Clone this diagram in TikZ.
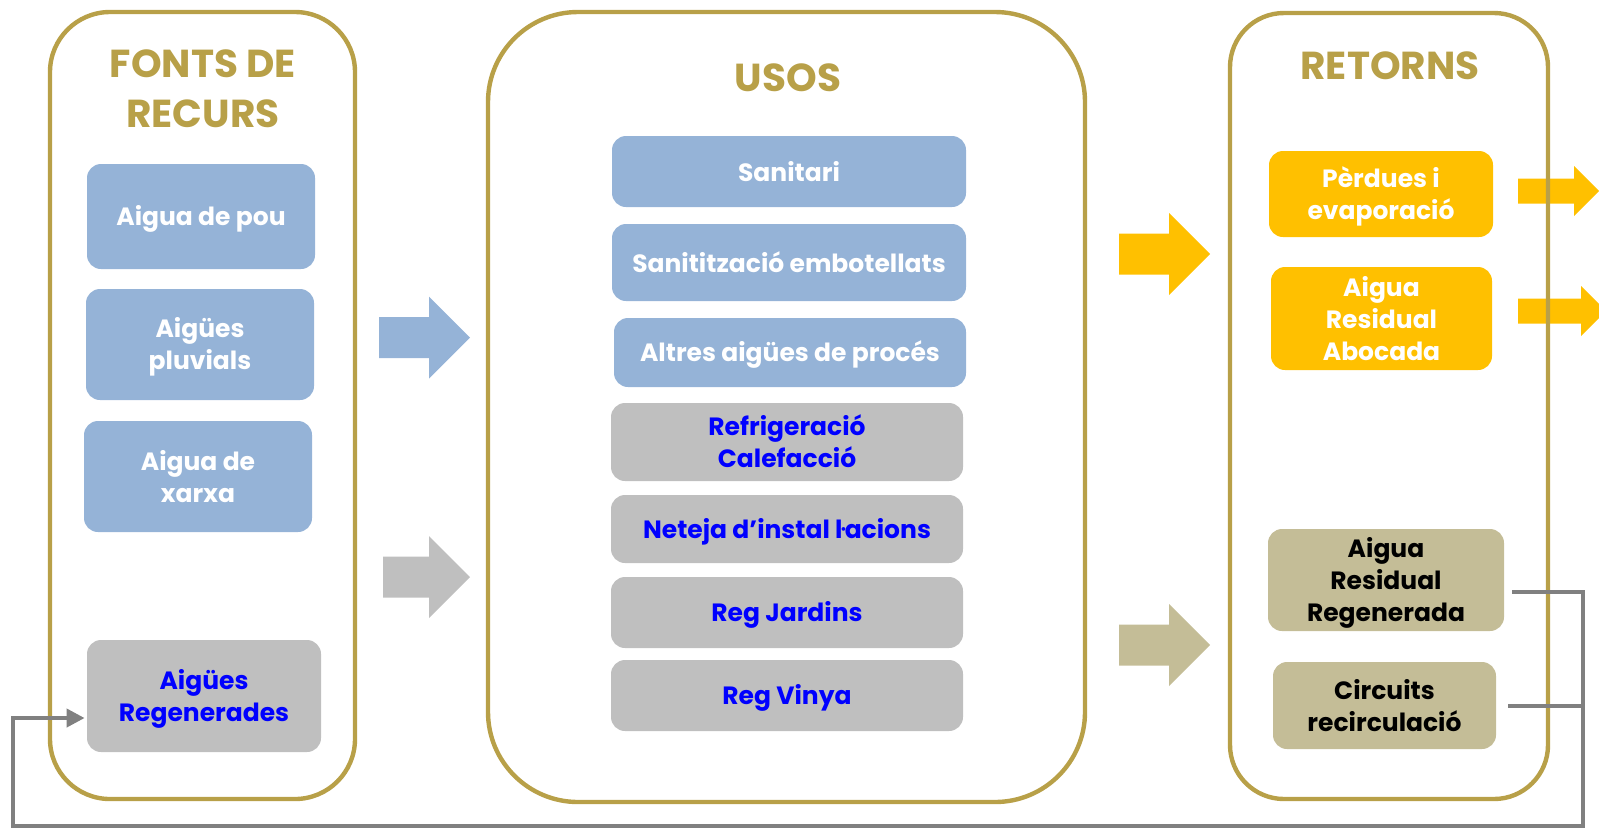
\documentclass[tikz,border=0pt]{standalone}
\usepackage{fontspec}
\setmainfont{Poppins}
\usetikzlibrary{arrows.meta, positioning}
\definecolor{gold}{RGB}{184,160,72}
\definecolor{blueb}{RGB}{149,179,215}
\definecolor{greyb}{RGB}{191,191,191}
\definecolor{yellowb}{RGB}{255,192,0}
\definecolor{tanb}{RGB}{196,189,151}
\definecolor{linegrey}{RGB}{128,128,128}
\tikzset{>={Triangle[length=9pt,width=9pt]}}

% colour, x start, x tip, y centre, half of the head
\newcommand{\flowarrow}[5]{%
  \fill[#1] (#2,#4-#5/2) -- (#3-#5,#4-#5/2) -- (#3-#5,#4-#5) -- (#3,#4)
    -- (#3-#5,#4+#5) -- (#3-#5,#4+#5/2) -- (#2,#4+#5/2) -- cycle;}
% fixed line height and depth inside the boxes
\newcommand{\bs}{\rule[-3pt]{0pt}{15.5pt}}

\begin{document}
\begin{tikzpicture}[x=0.5pt, y=-0.5pt,
    group/.style={draw=gold, line width=2.2pt, inner sep=0pt},
    title/.style={text=gold, align=center, font=\bfseries\fontsize{19.5}{25}\selectfont},
    box/.style={rounded corners=7pt, align=center, inner sep=0pt,
      font=\bfseries\fontsize{12.5}{16}\selectfont},
    bluebox/.style={box, fill=blueb, text=white},
    greybox/.style={box, fill=greyb, text=blue},
    yellowbox/.style={box, fill=yellowb, text=white},
    tanbox/.style={box, fill=tanb, text=black},
    fbline/.style={draw=linegrey, line width=2pt}]
\useasboundingbox (0,0) rectangle (1599,832);
\clip (0,0) rectangle (1599,832);

% big arrows
\flowarrow{blueb}{379}{470}{337.5}{41}
\flowarrow{greyb}{383}{470}{577}{41}
\flowarrow{yellowb}{1119}{1210}{254}{41}
\flowarrow{tanb}{1119}{1210}{645}{41}
\flowarrow{yellowb}{1518}{1599}{191}{25}
\flowarrow{yellowb}{1518}{1606}{311}{25}

% columns
\node[group, rounded corners=30pt, minimum width=152.5pt, minimum height=393.5pt] (fonts) at (202.5,405.5) {};
\node[group, rounded corners=45pt, minimum width=298.5pt, minimum height=395pt] (usos) at (786.5,407) {};
\node[group, rounded corners=27pt, minimum width=159pt, minimum height=393pt] (retorns) at (1389,406) {};

\node[title] (tfonts) at (203,89) {FONTS DE\\RECURS};
\node[title] (tusos) at (788,78) {USOS};
\node[title] (tretorns) at (1390,66) {RETORNS};

% fonts de recurs
\node[bluebox, minimum width=114pt, minimum height=52.5pt] (pou) at (201,216.5) {\bs Aigua de pou\bs};
\node[bluebox, minimum width=114pt, minimum height=55.5pt] (pluv) at (200,344.5) {\bs Aigües\\pluvials\bs};
\node[bluebox, minimum width=114pt, minimum height=55.5pt] (xarxa) at (198,476.5) {\bs Aigua de\\xarxa\bs};
\node[greybox, minimum width=117pt, minimum height=56pt] (regen) at (204,696) {\bs Aigües\\Regenerades\bs};

% usos
\node[bluebox, minimum width=177pt, minimum height=35.5pt] (sanit) at (789,171.5) {\bs Sanitari\bs};
\node[bluebox, minimum width=177pt, minimum height=38.5pt] (embot) at (789,262.5) {\bs Sanitització embotellats\bs};
\node[bluebox, minimum width=176pt, minimum height=34.5pt] (altres) at (790,352.5) {\bs Altres aigües de procés\bs};
\node[greybox, minimum width=176pt, minimum height=39pt] (refrig) at (787,442) {\bs Refrigeració\\Calefacció\bs};
\node[greybox, minimum width=176pt, minimum height=34pt] (neteja) at (787,529) {\bs Neteja d’instal ŀacions\bs};
\node[greybox, minimum width=176pt, minimum height=35.5pt] (jardins) at (787,612.5) {\bs Reg Jardins\bs};
\node[greybox, minimum width=176pt, minimum height=35.5pt] (vinya) at (787,695.5) {\bs Reg Vinya\bs};

% retorns
\node[yellowbox, minimum width=112pt, minimum height=43pt] (perdues) at (1381,194) {\bs Pèrdues i\\evaporació\bs};
\node[yellowbox, minimum width=110.5pt, minimum height=51.5pt] (aboc) at (1381.5,318.5) {\bs Aigua\\Residual\\Abocada\bs};
\node[tanbox, minimum width=118pt, minimum height=51pt] (regada) at (1386,580) {\bs Aigua\\Residual\\Regenerada\bs};
\node[tanbox, minimum width=111.5pt, minimum height=43.5pt] (circ) at (1384.5,705.5) {\bs Circuits\\recirculació\bs};

% feedback
\coordinate (fbr) at (1583,826);
\coordinate (fbl) at (13,826);
\draw[fbline, ->] ([shift={(8,12)}]regada.east) -| (fbr) -- (fbl) |- ([shift={(-2,22)}]regen.west);
\draw[fbline] ([shift={(12,0)}]circ.east) -- (fbr |- circ.east);
\end{tikzpicture}
\end{document}
